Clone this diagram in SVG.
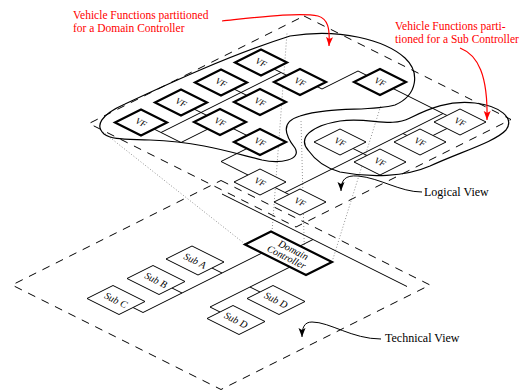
<svg xmlns="http://www.w3.org/2000/svg" width="524" height="392" viewBox="0 0 524 392">
<defs>
<marker id="ab" markerWidth="10" markerHeight="10" refX="9" refY="4" orient="auto" markerUnits="userSpaceOnUse"><path d="M0,0.5 L9,4 L0,7.5 L2,4 Z" fill="#000"/></marker>
<marker id="ar" markerWidth="10" markerHeight="10" refX="9" refY="4" orient="auto" markerUnits="userSpaceOnUse"><path d="M0,0.5 L9,4 L0,7.5 L2,4 Z" fill="#f00"/></marker>
</defs>
<style>
.pl{fill:none;stroke:#000;stroke-width:1;stroke-dasharray:8 7}
.bx{fill:#fff;stroke:#000;stroke-width:1;vector-effect:non-scaling-stroke}
.tk{stroke-width:2.2}
.ln{fill:none;stroke:#000;stroke-width:1;vector-effect:non-scaling-stroke}
.cv{fill:none;stroke:#000;stroke-width:1.2}
.dt{fill:none;stroke:#777;stroke-width:0.8;stroke-dasharray:1 2}
.t{font-family:"Liberation Serif",serif;font-style:italic;font-size:9px;text-anchor:middle}
.ts{font-family:"Liberation Serif",serif;font-style:italic;font-size:10px;text-anchor:middle}
.lb{font-family:"Liberation Serif",serif;font-size:12px}
.red{fill:#f00;font-size:11.5px}
.ra{fill:none;stroke:#f00;stroke-width:1.2}
.ba{fill:none;stroke:#000;stroke-width:1}
</style>
<g id="planes">
<polygon class="pl" points="304,16 511,119.5 296,227 89,123.5"/>
<polygon class="pl" points="221,180.5 430,285 221,389.5 12,285"/>
</g>
<g id="projection-lines">
<line class="dt" x1="245" y1="244" x2="103" y2="132"/>
<line class="dt" x1="272" y1="232" x2="287" y2="33"/>
<line class="dt" x1="305" y1="275" x2="301" y2="120"/>
<line class="dt" x1="332" y1="262" x2="381" y2="105"/>
</g>
<g id="regions">
<path id="domain-region" class="cv" d="M104,134 C95,126 100,115 125,104 C170,83 230,55 290,36 C340,28 385,40 405,58 C420,72 418,95 395,105 C370,112 330,106 300,116 C280,122 285,135 295,148 C302,160 280,164 262,160 C230,152 200,142 150,140 C125,139 112,140 104,134 Z"/>
<path id="sub-region" class="cv" d="M308,150 C298,138 310,126 340,121 C370,117 390,128 410,118 C430,108 450,100 475,103 C500,106 515,118 506,130 C495,142 460,152 430,166 C405,177 370,178 340,172 C325,168 315,160 308,150 Z"/>
</g>
<g id="connectors" transform="matrix(1,0.5,-1,0.5,0,0)">
<path class="ln" d="M206,52 H233 V25"/>
<path class="ln" d="M213,52 V-68"/>
<path class="ln" d="M206,-68 H219"/>
<path class="ln" d="M206,12 H219"/>
<path class="ln" d="M206,-28 H219"/>
<path class="ln" d="M245,-72 H250 V-108 H259"/>
<path class="ln" d="M285,-108 H339"/>
<path class="ln" d="M352,-95 V-81"/>
<path class="ln" d="M335,50 V-108"/>
<path class="ln" d="M325,50 H339"/>
<path class="ln" d="M325,-28 H339"/>
<path class="ln" d="M335,-68 H339"/>
<path class="ln" d="M272,25 V51 H299"/>
<path class="ln" d="M245,12 H259"/>
<path class="ln" d="M384,122 V241 M374,162 H384 M374,202 H384 M374,241 H384"/>
<path class="ln" d="M412,122 V202 H422 M412,162 H422"/>
<path class="ln" d="M396,96 V83"/>
<path class="ln" d="M305,83 H490"/>
</g>
<g transform="matrix(1,0.5,-1,0.5,0,0)">
<g id="vf1"><rect class="bx tk" x="180" y="39" width="26" height="26"/></g>
<g id="vf2"><rect class="bx tk" x="180" y="-1" width="26" height="26"/></g>
<g id="vf3"><rect class="bx tk" x="180" y="-41" width="26" height="26"/></g>
<g id="vf4"><rect class="bx tk" x="180" y="-81" width="26" height="26"/></g>
<g id="vf5"><rect class="bx tk" x="219" y="-81" width="26" height="26"/></g>
<g id="vf6"><rect class="bx tk" x="219" y="-41" width="26" height="26"/></g>
<g id="vf7"><rect class="bx tk" x="219" y="-1" width="26" height="26"/></g>
<g id="vf8"><rect class="bx tk" x="259" y="-1" width="26" height="26"/></g>
<g id="vf9"><rect class="bx tk" x="259" y="-121" width="26" height="26"/></g>
<g id="vf10"><rect class="bx" x="299" y="39" width="26" height="26"/></g>
<g id="vf11"><rect class="bx" x="339" y="39" width="26" height="26"/></g>
<g id="vf12"><rect class="bx" x="299" y="-41" width="26" height="26"/></g>
<g id="vf13"><rect class="bx" x="339" y="-41" width="26" height="26"/></g>
<g id="vf14"><rect class="bx" x="339" y="-81" width="26" height="26"/></g>
<g id="vf15"><rect class="bx" x="339" y="-121" width="26" height="26"/></g>
<g id="domain-controller"><rect class="bx tk" x="367" y="96" width="61" height="26"/></g>
<g id="sub-a"><rect class="bx" x="342" y="150" width="32" height="26"/></g>
<g id="sub-b"><rect class="bx" x="342" y="189" width="32" height="26"/></g>
<g id="sub-c"><rect class="bx" x="342" y="229" width="32" height="26"/></g>
<g id="sub-d1"><rect class="bx" x="422" y="149" width="32" height="26"/></g>
<g id="sub-d2"><rect class="bx" x="422" y="189" width="32" height="26"/></g>
</g>
<g id="box-labels">
<text class="t" transform="translate(141,122.5) rotate(26.57)" dy="3">VF</text>
<text class="t" transform="translate(181,102.5) rotate(26.57)" dy="3">VF</text>
<text class="t" transform="translate(221,82.5) rotate(26.57)" dy="3">VF</text>
<text class="t" transform="translate(261,62.5) rotate(26.57)" dy="3">VF</text>
<text class="t" transform="translate(300,82) rotate(26.57)" dy="3">VF</text>
<text class="t" transform="translate(260,102) rotate(26.57)" dy="3">VF</text>
<text class="t" transform="translate(220,122) rotate(26.57)" dy="3">VF</text>
<text class="t" transform="translate(260,142) rotate(26.57)" dy="3">VF</text>
<text class="t" transform="translate(380,82) rotate(26.57)" dy="3">VF</text>
<text class="t" transform="translate(260,182) rotate(26.57)" dy="3">VF</text>
<text class="t" transform="translate(300,202) rotate(26.57)" dy="3">VF</text>
<text class="t" transform="translate(340,142) rotate(26.57)" dy="3">VF</text>
<text class="t" transform="translate(380,162) rotate(26.57)" dy="3">VF</text>
<text class="t" transform="translate(420,142) rotate(26.57)" dy="3">VF</text>
<text class="t" transform="translate(460,122) rotate(26.57)" dy="3">VF</text>
<text class="ts" transform="translate(288.5,253) rotate(26.57)"><tspan x="3" dy="-1.5">Domain</tspan><tspan x="0" dy="9.5">Controller</tspan></text>
<text class="ts" transform="translate(195,260.5) rotate(26.57)" dy="3.5">Sub A</text>
<text class="ts" transform="translate(156,280) rotate(26.57)" dy="3.5">Sub B</text>
<text class="ts" transform="translate(116,300) rotate(26.57)" dy="3.5">Sub C</text>
<text class="ts" transform="translate(276,300) rotate(26.57)" dy="3.5">Sub D</text>
<text class="ts" transform="translate(236,320) rotate(26.57)" dy="3.5">Sub D</text>
</g>
<g id="annotations">
<text class="lb red" x="73" y="18.5">Vehicle Functions partitioned</text>
<text class="lb red" x="73" y="31.5">for a Domain Controller</text>
<path class="ra" d="M222,21 C260,17 300,12 318,16 C328,19 330,28 329,46" marker-end="url(#ar)"/>
<text class="lb red" x="395" y="29.5">Vehicle Functions parti-</text>
<text class="lb red" x="395" y="42.5">tioned for a Sub Controller</text>
<path class="ra" d="M460,48 C478,55 488,75 487,120" marker-end="url(#ar)"/>
<text class="lb" x="424" y="196">Logical View</text>
<path class="ba" d="M422,192 C400,192 380,178 358,176 C345,175 341,180 341,191" marker-end="url(#ab)"/>
<text class="lb" x="385" y="342">Technical View</text>
<path class="ba" d="M381,339 C352,339 330,322 312,322 C304,322 302,328 302,337" marker-end="url(#ab)"/>
</g>
</svg>
